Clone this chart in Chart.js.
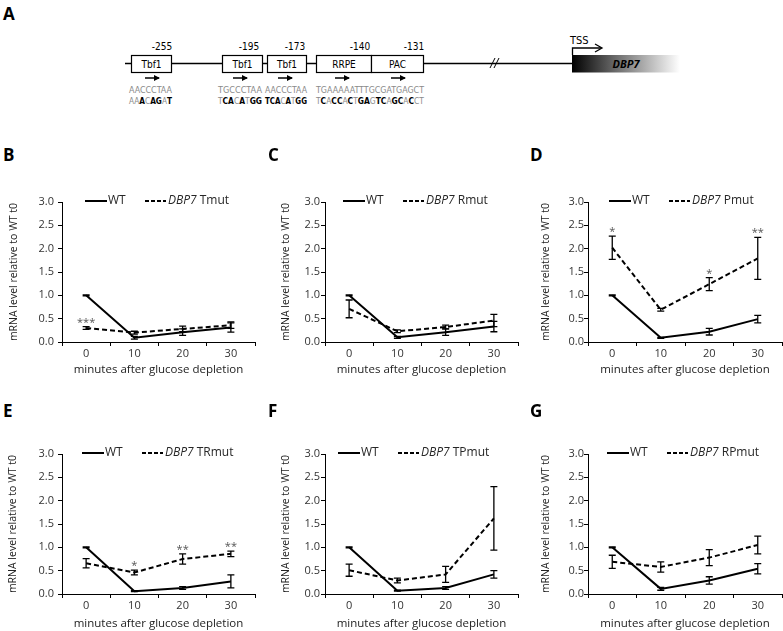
<!DOCTYPE html>
<html>
<head>
<meta charset="utf-8">
<script src="https://cdn.jsdelivr.net/npm/chart.js@4.4.1/dist/chart.umd.min.js"></script>
<style>
  body { margin: 0; background: #fff; width: 783px; height: 631px; position: relative; overflow: hidden; font-family: "Open Sans", sans-serif; color: #333; }
  canvas { position: absolute; }
  .panel { position: absolute; font: bold 17px "Open Sans", sans-serif; color: #000; }
  .leg { position: absolute; font-size: 12px; line-height: 14px; white-space: nowrap; color: #262626; }
  .swatch { position: absolute; height: 0; }
  .narrow { font-family: "Liberation Sans Narrow", "DejaVu Sans Condensed", "Liberation Sans", sans-serif; }
</style>
</head>
<body>

<svg width="783" height="130" style="position:absolute;left:0;top:0" class="narrow">
  <defs>
    <linearGradient id="geneFill" x1="0" x2="1" y1="0" y2="0">
      <stop offset="0" stop-color="#000"/>
      <stop offset="0.4" stop-color="#6a6a6a"/>
      <stop offset="1" stop-color="#fff"/>
    </linearGradient>
    <marker id="head" markerWidth="6" markerHeight="6" refX="5" refY="3" orient="auto" markerUnits="userSpaceOnUse">
      <path d="M0,0 L6,3 L0,6 z" fill="#000"/>
    </marker>
  </defs>
  <text x="3" y="20" font-family="Open Sans, sans-serif" font-weight="bold" font-size="17">A</text>

  <line x1="125" y1="63.5" x2="572" y2="63.5" stroke="#000" stroke-width="1.5"/>
  <line x1="490" y1="68" x2="495" y2="58" stroke="#000" stroke-width="1"/>
  <line x1="494" y1="68" x2="499" y2="58" stroke="#000" stroke-width="1"/>

  <g fill="#fff" stroke="#000" stroke-width="1.2">
    <rect x="131.5" y="55.5" width="40" height="17"/>
    <rect x="222.5" y="55.5" width="40" height="17"/>
    <rect x="267.5" y="55.5" width="39" height="17"/>
    <rect x="316.5" y="55.5" width="55" height="17"/>
    <rect x="371.5" y="55.5" width="52" height="17"/>
  </g>
  <g font-size="10" text-anchor="middle" fill="#000">
    <text x="151.5" y="67.5">Tbf1</text>
    <text x="242.5" y="67.5">Tbf1</text>
    <text x="287" y="67.5">Tbf1</text>
    <text x="344" y="67.5">RRPE</text>
    <text x="397.5" y="67.5">PAC</text>
  </g>
  <g font-size="10" text-anchor="middle" fill="#000">
    <text x="162" y="50">-255</text>
    <text x="249" y="50">-195</text>
    <text x="295" y="50">-173</text>
    <text x="360" y="50">-140</text>
    <text x="414" y="50">-131</text>
  </g>
  <g stroke="#000" stroke-width="1.5" marker-end="url(#head)">
    <line x1="145" y1="78" x2="159" y2="78"/>
    <line x1="233" y1="78" x2="247" y2="78"/>
    <line x1="278" y1="78" x2="292" y2="78"/>
    <line x1="335" y1="78" x2="349" y2="78"/>
    <line x1="391" y1="78" x2="405" y2="78"/>
  </g>
  <g font-size="9.5" fill="#8a8a8a">
    <text x="129" y="93" textLength="43" lengthAdjust="spacingAndGlyphs">AACCCTAA</text>
    <text x="218" y="93" textLength="44" lengthAdjust="spacingAndGlyphs">TGCCCTAA</text>
    <text x="265" y="93" textLength="42" lengthAdjust="spacingAndGlyphs">AACCCTAA</text>
    <text x="316" y="93" textLength="108" lengthAdjust="spacingAndGlyphs">TGAAAAATTTGCGATGAGCT</text>
  </g>
  <g font-size="9.5" fill="#8a8a8a">
    <text x="129" y="104" textLength="43" lengthAdjust="spacingAndGlyphs">AA<tspan fill="#000" font-weight="bold">A</tspan>C<tspan fill="#000" font-weight="bold">AG</tspan>A<tspan fill="#000" font-weight="bold">T</tspan></text>
    <text x="218" y="104" textLength="44" lengthAdjust="spacingAndGlyphs">T<tspan fill="#000" font-weight="bold">CA</tspan>C<tspan fill="#000" font-weight="bold">A</tspan>T<tspan fill="#000" font-weight="bold">GG</tspan></text>
    <text x="265" y="104" textLength="42" lengthAdjust="spacingAndGlyphs"><tspan fill="#000" font-weight="bold">TCA</tspan>C<tspan fill="#000" font-weight="bold">A</tspan>T<tspan fill="#000" font-weight="bold">GG</tspan></text>
    <text x="316" y="104" textLength="108" lengthAdjust="spacingAndGlyphs">T<tspan fill="#000" font-weight="bold">C</tspan>A<tspan fill="#000" font-weight="bold">CC</tspan>A<tspan fill="#000" font-weight="bold">C</tspan>T<tspan fill="#000" font-weight="bold">GA</tspan>G<tspan fill="#000" font-weight="bold">TC</tspan>A<tspan fill="#000" font-weight="bold">GC</tspan>A<tspan fill="#000" font-weight="bold">C</tspan>CT</text>
  </g>

  <rect x="572" y="55" width="108" height="17.5" fill="url(#geneFill)"/>
  <text x="626" y="68" font-family="Open Sans, sans-serif" font-size="11" font-weight="bold" font-style="italic" text-anchor="middle" fill="#000">DBP7</text>
  <path d="M572.5,55 L572.5,48 L601,48" fill="none" stroke="#000" stroke-width="1.3"/>
  <path d="M595,44 L602,48 L595,52" fill="none" stroke="#000" stroke-width="1.3"/>
  <text x="570" y="44" font-size="11" fill="#000">TSS</text>
</svg>

<script>
// x categories
const minutes = ['0', '10', '20', '30'];
const panelIds = ['B', 'C', 'D', 'E', 'F', 'G'];
const mutantNames = ['Tmut', 'Rmut', 'Pmut', 'TRmut', 'TPmut', 'RPmut'];

// B
const wtB = [1.0, 0.09, 0.21, 0.31];
const wtBErr = [0.01, 0.03, 0.07, 0.10];
const tMut = [0.30, 0.20, 0.28, 0.36];
const tMutErr = [0.03, 0.03, 0.06, 0.07];
const starsB = ['***', '', '', ''];
// C
const wtC = [1.0, 0.10, 0.21, 0.33];
const wtCErr = [0.01, 0.02, 0.07, 0.11];
const rMut = [0.71, 0.23, 0.32, 0.46];
const rMutErr = [0.19, 0.03, 0.04, 0.13];
// D
const wtD = [1.0, 0.09, 0.22, 0.49];
const wtDErr = [0.01, 0.01, 0.07, 0.08];
const pMut = [2.02, 0.69, 1.24, 1.79];
const pMutErr = [0.25, 0.03, 0.14, 0.45];
const starsD = ['*', '', '*', '**'];
// E
const wtE = [1.0, 0.06, 0.13, 0.27];
const wtEErr = [0.01, 0.01, 0.03, 0.14];
const trMut = [0.66, 0.46, 0.75, 0.86];
const trMutErr = [0.10, 0.05, 0.11, 0.06];
const starsE = ['', '*', '**', '**'];
// F
const wtF = [1.0, 0.07, 0.13, 0.42];
const wtFErr = [0.01, 0.01, 0.03, 0.08];
const tpMut = [0.51, 0.29, 0.42, 1.62];
const tpMutErr = [0.13, 0.05, 0.17, 0.68];
// G
const wtG = [1.0, 0.11, 0.29, 0.54];
const wtGErr = [0.01, 0.03, 0.08, 0.11];
const rpMut = [0.69, 0.58, 0.78, 1.05];
const rpMutErr = [0.14, 0.11, 0.17, 0.19];

const series = [
  [wtB, wtBErr, tMut, tMutErr, starsB],
  [wtC, wtCErr, rMut, rMutErr, []],
  [wtD, wtDErr, pMut, pMutErr, starsD],
  [wtE, wtEErr, trMut, trMutErr, starsE],
  [wtF, wtFErr, tpMut, tpMutErr, []],
  [wtG, wtGErr, rpMut, rpMutErr, []]
];

// where each small chart sits on the page
const layout = [
  { x: 0,   y: 190, w: 262, h: 187, left: 62,  right: 255, titleX: 14, tickPad: 4, labelY: 155, legY: 201, legSolid: 85,  legDash: 145 },
  { x: 262, y: 190, w: 262, h: 187, left: 325, right: 518, titleX: 24, tickPad: 1, labelY: 155, legY: 201, legSolid: 343, legDash: 403 },
  { x: 524, y: 190, w: 259, h: 187, left: 588, right: 782, titleX: 22, tickPad: 0, labelY: 155, legY: 201, legSolid: 609, legDash: 669 },
  { x: 0,   y: 442, w: 262, h: 189, left: 62,  right: 255, titleX: 13, tickPad: 4, labelY: 411, legY: 453, legSolid: 82,  legDash: 142 },
  { x: 262, y: 442, w: 262, h: 189, left: 325, right: 518, titleX: 24, tickPad: 1, labelY: 411, legY: 453, legSolid: 338, legDash: 398 },
  { x: 524, y: 442, w: 259, h: 189, left: 588, right: 782, titleX: 22, tickPad: 0, labelY: 411, legY: 453, legSolid: 607, legDash: 667 }
];
const plotTopPad = 12, plotHeight = 140;

Chart.defaults.font.family = '"Open Sans", sans-serif';
Chart.defaults.color = '#333';

const errorBars = {
  id: 'errorBars',
  afterDatasetsDraw(chart) {
    const { ctx } = chart;
    const y = chart.scales.y;
    ctx.save();
    ctx.strokeStyle = '#000';
    ctx.lineWidth = 1.3;
    chart.data.datasets.forEach((ds, di) => {
      const meta = chart.getDatasetMeta(di);
      meta.data.forEach((pt, i) => {
        const v = ds.data[i], e = ds.errors[i];
        const top = y.getPixelForValue(v + e);
        const bot = y.getPixelForValue(v - e);
        ctx.beginPath();
        ctx.moveTo(pt.x, top); ctx.lineTo(pt.x, bot);
        ctx.moveTo(pt.x - 3.5, top); ctx.lineTo(pt.x + 3.5, top);
        ctx.moveTo(pt.x - 3.5, bot); ctx.lineTo(pt.x + 3.5, bot);
        ctx.stroke();
        if (ds.stars && ds.stars[i]) {
          ctx.fillStyle = '#555';
          ctx.font = '11px "Open Sans", sans-serif';
          ctx.textAlign = 'center';
          ctx.textBaseline = 'alphabetic';
          ctx.fillText(ds.stars[i], pt.x, top - 1);
        }
      });
    });
    ctx.restore();
  }
};

function addText(cls, x, y, html) {
  const d = document.createElement('div');
  d.className = cls;
  d.style.left = x + 'px';
  d.style.top = y + 'px';
  d.innerHTML = html;
  document.body.appendChild(d);
  return d;
}

function addLegend(p, name) {
  const solid = addText('swatch', p.legSolid, p.legY - 1, '');
  solid.style.width = '22px';
  solid.style.borderTop = '2px solid #000';
  addText('leg', p.legSolid + 23, p.legY - 8, 'WT');
  const dash = addText('swatch', p.legDash, p.legY - 1, '');
  dash.style.width = '21px';
  dash.style.height = '2px';
  dash.style.background = 'repeating-linear-gradient(90deg,#000 0 4px,transparent 4px 6px)';
  addText('leg', p.legDash + 23, p.legY - 8, '<i>DBP7</i> ' + name);
}

panelIds.forEach((id, k) => {
  const p = layout[k];
  const [wt, wtErr, mut, mutErr, stars] = series[k];
  const canvas = document.createElement('canvas');
  canvas.width = p.w;
  canvas.height = p.h;
  canvas.style.left = p.x + 'px';
  canvas.style.top = p.y + 'px';
  document.body.appendChild(canvas);

  const xHeight = p.h - plotTopPad - plotHeight;
  new Chart(canvas, {
    type: 'line',
    data: {
      labels: minutes,
      datasets: [
        { label: 'WT', data: wt, errors: wtErr, borderColor: '#000', borderWidth: 2, pointRadius: 0, tension: 0 },
        { label: 'DBP7 ' + mutantNames[k], data: mut, errors: mutErr, stars: stars, borderColor: '#000', borderWidth: 2, borderDash: [5, 3], pointRadius: 0, tension: 0 }
      ]
    },
    options: {
      responsive: false,
      animation: false,
      events: [],
      layout: { padding: { top: plotTopPad, right: p.x + p.w - p.right, bottom: 0, left: 0 } },
      plugins: { legend: { display: false }, tooltip: { enabled: false } },
      scales: {
        x: {
          offset: true,
          grid: { offset: true, drawOnChartArea: false, tickLength: 4, color: '#000' },
          border: { color: '#000', width: 1 },
          ticks: { padding: 1, maxRotation: 0, font: { size: 11 }, color: '#333' },
          title: { display: true, text: 'minutes after glucose depletion', padding: { top: 0, bottom: 0 }, font: { size: 11.5 }, color: '#222' },
          afterFit: s => { s.height = xHeight; }
        },
        y: {
          min: 0,
          max: 3,
          grid: { drawOnChartArea: false, tickLength: 4, color: '#000' },
          border: { color: '#000', width: 1 },
          ticks: { stepSize: 0.5, padding: p.tickPad, font: { size: 11 }, color: '#333', callback: v => Number(v).toFixed(1) },
          title: { display: true, text: 'mRNA level relative to WT t0', padding: { top: p.titleX - 6.3, bottom: 0 }, font: { size: 10.5 }, color: '#222' },
          afterFit: s => { s.width = p.left - p.x; }
        }
      }
    },
    plugins: [errorBars]
  });

  addText('panel', p.x + 3 + (k % 3 === 0 ? 0 : 3), p.labelY - 12, id);
  addLegend(p, mutantNames[k]);
});
</script>
</body>
</html>
